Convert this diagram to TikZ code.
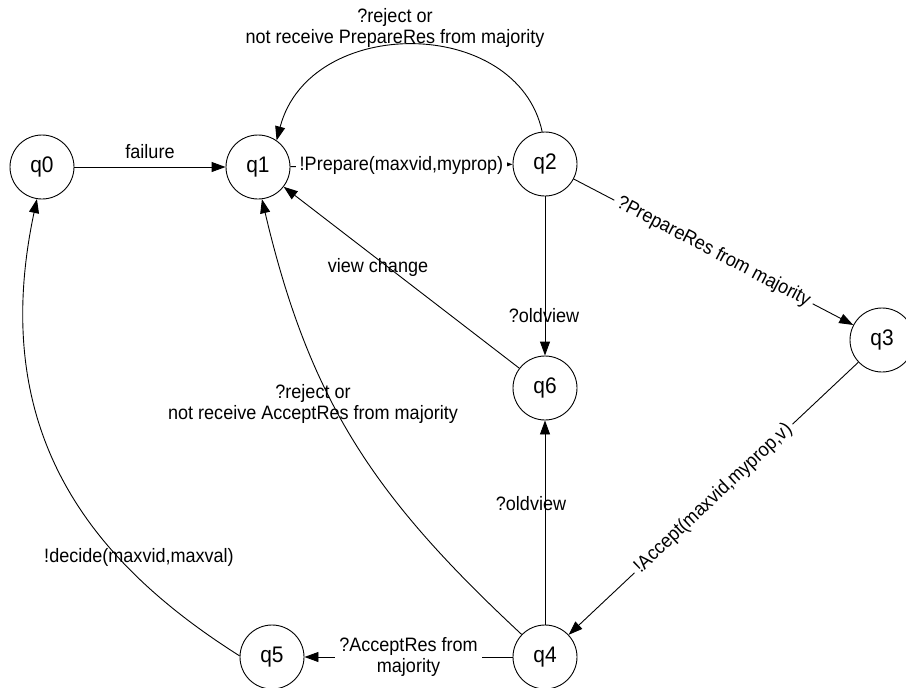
\documentclass[tikz,border=0pt]{standalone}
\usepackage{fontspec}
\setmainfont{Liberation Sans}
% slightly condensed face, set larger, for taller glyphs at the same widths
\newfontfamily\diagfont[FakeStretch=0.93]{Liberation Sans}
\usetikzlibrary{arrows.meta}
\begin{document}
\begin{tikzpicture}[x=1pt,y=-1pt,
  state/.style={circle,draw,line width=0.9pt,minimum size=64pt,inner sep=0pt,
                font=\diagfont\fontsize{22.5}{26}\selectfont},
  lbl/.style={font=\diagfont\fontsize{19.4}{21}\selectfont,inner sep=1pt,align=center},
  onl/.style={lbl,fill=white,inner ysep=3pt,inner xsep=4pt},
  tr/.style={-{Triangle[length=14pt,width=10pt]},line width=0.9pt}]
\useasboundingbox (0,0) rectangle (906,688);

% states
\node[state] (q0) at (42,167) {q0};
\node[state] (q1) at (258,167) {q1};
\node[state] (q2) at (545,164) {q2};
\node[state] (q3) at (882,340) {q3};
\node[state] (q6) at (545,388) {q6};
\node[state] (q4) at (545,657) {q4};
\node[state] (q5) at (272,657) {q5};

% straight transitions
\draw[tr] (q0) -- (q1);
\node[lbl] (lfail) at (150,152) {failure};
\draw[tr] (q1) -- node[onl] (lprep) {!Prepare(maxvid,myprop)} (q2);
\draw[tr] (q2) -- node[onl,sloped] (lpres) {?PrepareRes from majority} (q3);
\draw[tr] (q3) -- node[onl,sloped] (lacc) {!Accept(maxvid,myprop,v)} (q4);
\draw[tr] (q4) -- node[onl] (lares) {?AcceptRes from\\majority} (q5);
\draw[tr] (q2) -- (q6);
\node[lbl] (lold1) at (544,316) {?oldview};
\draw[tr] (q4) -- (q6);
\node[lbl] (lold2) at (531,504) {?oldview};
\draw[tr] (q6) -- (q1);
\node[lbl] (lview) at (378,267) {view change};

% curved transitions
\draw[tr] (q2.95) .. controls +(-25,-116) and +(33,-126) .. (q1.55);
\node[lbl] (lrej1) at (395,28) {?reject or\\not receive PrepareRes from majority};
\draw[tr] (q4.136) .. controls +(-146,-136) and +(48,204) .. (q1.277);
\node[lbl] (lrej2) at (313,404) {?reject or\\not receive AcceptRes from majority};
\draw[tr] (q5.178) .. controls +(-147,-93) and +(-50,235) .. (q0.261);
\node[lbl] (ldec) at (139,557) {!decide(maxvid,maxval)};
\end{tikzpicture}
\end{document}
